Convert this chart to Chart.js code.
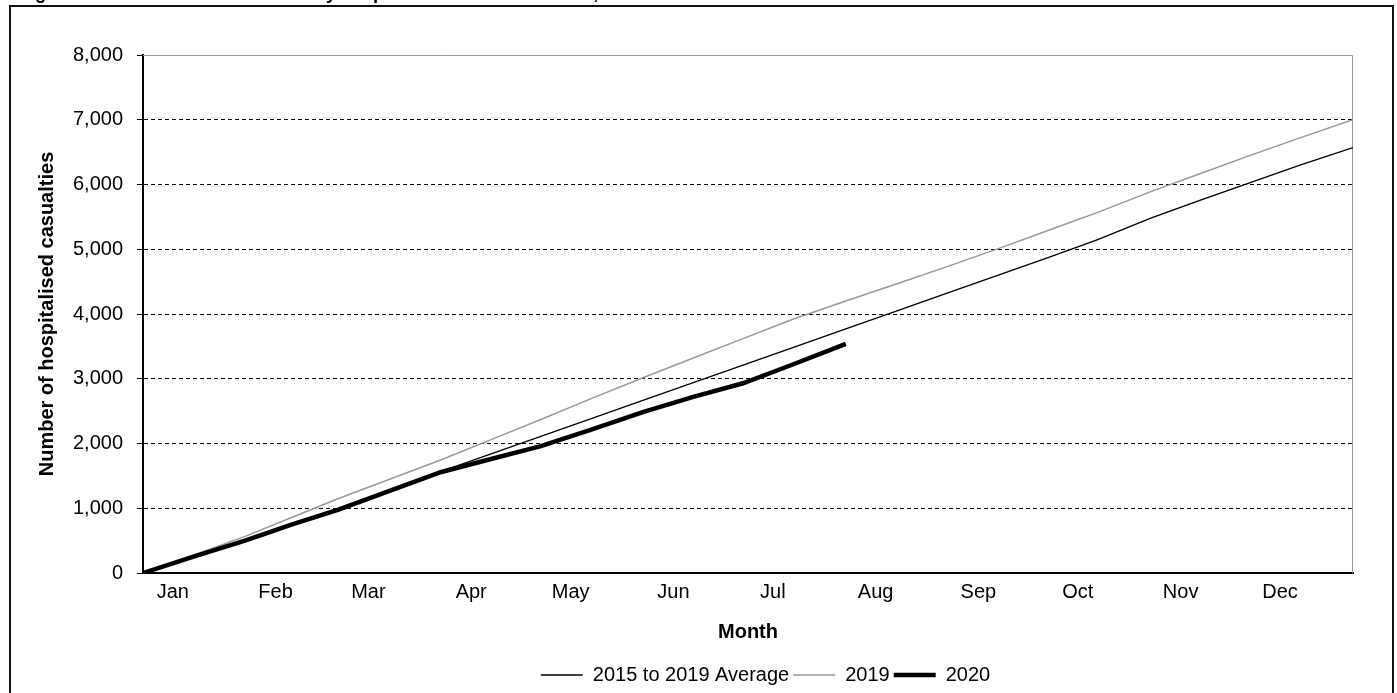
<!DOCTYPE html>
<html>
<head>
<meta charset="utf-8">
<script src="https://cdn.jsdelivr.net/npm/chart.js@4.4.0/dist/chart.umd.min.js"></script>
<style>
  html, body { margin: 0; padding: 0; background: #fff; overflow: hidden; }
  body { width: 1397px; height: 693px; position: relative; font-family: Arial, "Liberation Sans", sans-serif; }
  #fig-title { position: absolute; left: 19px; top: -16px; font-weight: bold; font-size: 18px; line-height: 18px; white-space: nowrap; color: #000; }
  #frame { position: absolute; left: 9px; top: 5px; width: 1385px; height: 720px; border: 2px solid #111; box-sizing: border-box; }
  #wrap { position: absolute; left: 0; top: 0; width: 1397px; height: 693px; }
</style>
</head>
<body>
<div id="fig-title">Figure 2: Cumulative number of daily hospitalised traffic casualties, 2015 to 2020</div>
<div id="frame"></div>
<div id="wrap"><canvas id="chart"></canvas></div>
<script>
// day of year (0 = 1 Jan) for each reading
const days = [0, 15, 31, 45, 59, 75, 90, 105, 120, 135, 151, 166, 181, 196, 212, 227, 243, 258, 273, 288, 304, 319, 334, 349, 365];
const avgValues = [0, 250, 505, 755, 1000, 1290, 1570, 1840, 2110, 2380, 2670, 2940, 3210, 3480, 3770, 4040, 4330, 4600, 4870, 5150, 5480, 5760, 6030, 6300, 6570];
const values2019 = [0, 270, 570, 860, 1150, 1460, 1750, 2060, 2370, 2690, 3020, 3320, 3620, 3920, 4200, 4460, 4740, 5010, 5290, 5570, 5890, 6170, 6450, 6720, 7000];
const days2020 = [0, 15, 31, 45, 59, 75, 90, 105, 120, 135, 151, 166, 181, 196, 212];
const values2020 = [0, 250, 505, 750, 980, 1280, 1560, 1760, 1960, 2210, 2490, 2720, 2930, 3220, 3540];

const monthLabels = ['Jan', 'Feb', 'Mar', 'Apr', 'May', 'Jun', 'Jul', 'Aug', 'Sep', 'Oct', 'Nov', 'Dec'];
const monthStarts = [0, 31, 59, 90, 120, 151, 181, 212, 243, 273, 304, 334];
const yTickLabels = ['0', '1,000', '2,000', '3,000', '4,000', '5,000', '6,000', '7,000', '8,000'];

const seriesNames = ['2015 to 2019 Average', '2019', '2020'];

const toPoints = (xs, ys) => xs.map((d, i) => ({ x: d, y: ys[i] }));

// grey frame on top and right of the plot area
const plotFrame = {
    id: 'plotFrame',
    beforeDatasetsDraw(chart) {
        const { ctx, chartArea: a } = chart;
        ctx.save();
        ctx.strokeStyle = '#999';
        ctx.lineWidth = 1;
        ctx.beginPath();
        ctx.moveTo(a.left, a.top + 0.5);
        ctx.lineTo(a.right - 0.5, a.top + 0.5);
        ctx.lineTo(a.right - 0.5, a.bottom);
        ctx.stroke();
        ctx.restore();
    }
};

// the legend in the original sits a bit right of centre
const legendShift = {
    id: 'legendShift',
    afterLayout(chart) {
        const lg = chart.legend;
        if (!lg) return;
        lg.left += 89;
        lg.right += 89;
    }
};

Chart.defaults.font.family = 'Arial, "Liberation Sans", sans-serif';
Chart.defaults.color = '#000';

const ctx = document.getElementById('chart').getContext('2d');
const chart = new Chart(ctx, {
    type: 'line',
    data: {
        datasets: [{
            label: seriesNames[0],
            data: toPoints(days, avgValues),
            borderColor: '#000',
            borderWidth: 1.4,
            order: 2
        }, {
            label: seriesNames[1],
            data: toPoints(days, values2019),
            borderColor: '#999',
            borderWidth: 1.5,
            order: 1
        }, {
            label: seriesNames[2],
            data: toPoints(days2020, values2020),
            borderColor: '#000',
            borderWidth: 4.5,
            order: 0
        }]
    },
    options: {
        responsive: true,
        maintainAspectRatio: false,
        animation: false,
        elements: {
            point: { radius: 0 },
            line: { tension: 0, fill: false }
        },
        layout: {
            padding: { left: 0, right: 44, top: 55, bottom: -2 }
        },
        plugins: {
            legend: {
                position: 'bottom',
                labels: {
                    usePointStyle: true,
                    pointStyle: 'line',
                    pointStyleWidth: 42,
                    boxHeight: 20,
                    padding: 4,
                    color: '#000',
                    font: { size: 20 },
                    sort: (a, b) => a.datasetIndex - b.datasetIndex
                }
            },
            tooltip: { enabled: false }
        },
        scales: {
            x: {
                type: 'linear',
                min: 0,
                max: 365,
                afterBuildTicks: scale => {
                    scale.ticks = monthStarts.map(d => ({ value: d + 9 }));
                },
                ticks: {
                    autoSkip: false,
                    maxRotation: 0,
                    padding: 7,
                    font: { size: 20 },
                    callback: (v, i) => monthLabels[i]
                },
                grid: { display: false, drawTicks: false },
                border: { color: '#000', width: 2 },
                title: {
                    display: true,
                    text: 'Month',
                    font: { size: 20, weight: 'bold' },
                    padding: { top: 0, bottom: 17 }
                },
                afterFit: scale => { scale.height = 88; }
            },
            y: {
                min: 0,
                max: 8000,
                afterBuildTicks: scale => {
                    scale.ticks = yTickLabels.map((t, i) => ({ value: i * 1000 }));
                },
                ticks: {
                    padding: 14,
                    font: { size: 20 },
                    callback: (v, i) => yTickLabels[i]
                },
                grid: {
                    color: c => (c.tick && c.tick.value === 8000) ? 'rgba(0,0,0,0)' : '#000',
                    tickColor: '#000',
                    lineWidth: 1,
                    tickLength: 6
                },
                border: { color: '#000', width: 2, dash: [4, 3] },
                title: {
                    display: true,
                    text: 'Number of hospitalised casualties',
                    font: { size: 20, weight: 'bold' },
                    padding: { top: 35, bottom: 0 }
                },
                afterFit: scale => { scale.width = 143; }
            }
        }
    },
    plugins: [plotFrame, legendShift]
});
</script>
</body>
</html>
